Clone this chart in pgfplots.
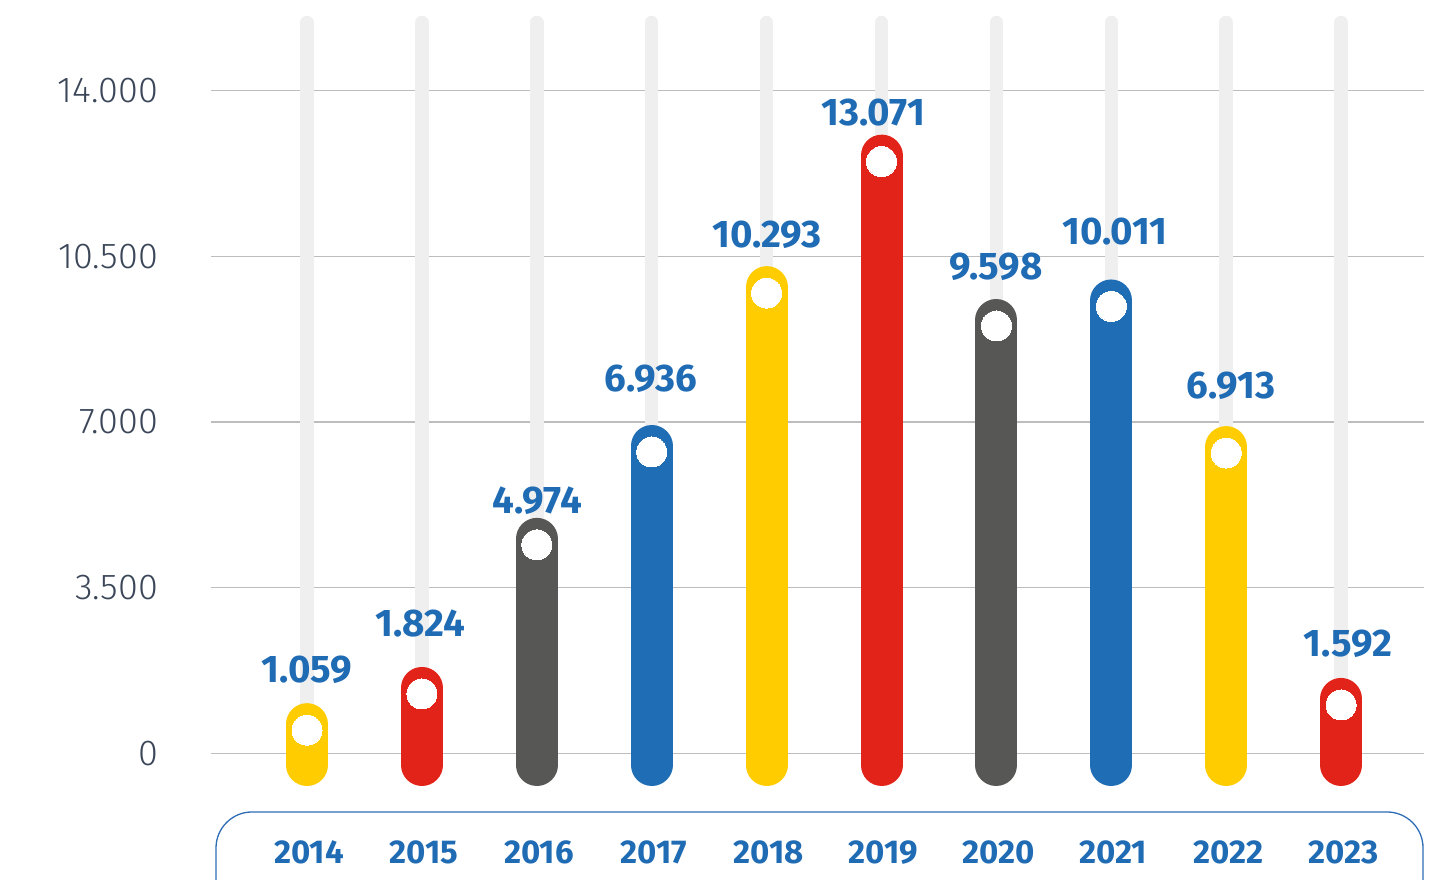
\documentclass[border=0pt]{standalone}
\usepackage{pgfplots}
\pgfplotsset{compat=1.18}
\usepackage{fontspec}
\setmainfont{Fira Sans}
\IfFontExistsTF{Fira Sans Light}{\newfontfamily\tickfont{Fira Sans Light}}{\newfontfamily\tickfont{Fira Sans}}
\definecolor{cyel}{HTML}{FFCC00}
\definecolor{cred}{HTML}{E2231A}
\definecolor{cgray}{HTML}{575756}
\definecolor{cblue}{HTML}{1F6DB5}
\definecolor{clab}{HTML}{1F6BB4}
\definecolor{ctick}{HTML}{3B4759}
\definecolor{cgrid}{HTML}{BDBDBD}
\definecolor{ctrack}{HTML}{EFEFEF}
\definecolor{coutline}{HTML}{2E6DB4}
\pgfplotsset{
  capsule/.style={#1, line width=42pt, line cap=round,
    y filter/.expression={y==0 ? -247 : y-443.7}},
}
\tikzset{
  vlab/.style={font=\fontsize{38.5}{40}\selectfont\bfseries, text=clab, anchor=center, inner sep=0pt},
}
\begin{document}
\begin{tikzpicture}
\begin{axis}[
  scale only axis, width=1445pt, height=879pt,
  xmin=-2.6719, xmax=9.9043, ymin=-2656, ymax=15916,
  axis line style={draw=none}, tick style={draw=none}, major tick length=0pt,
  scaled y ticks=false, scaled x ticks=false,
  xtick={0,1,2,3,4,5,6,7,8,9},
  xticklabels={2014,2015,2016,2017,2018,2019,2020,2021,2022,2023},
  xticklabel style={font=\fontsize{33}{36}\selectfont\bfseries, text=clab, anchor=center, inner sep=0pt, yshift=26.5pt, xshift=2pt},
  ytick={0,3500,7000,10500,14000},
  yticklabels={0,3.500,7.000,10.500,14.000},
  yticklabel style={font=\fontsize{36}{40}\tickfont, text=ctick, anchor=east, inner sep=0pt, xshift=158pt},
  clip=true,
]
% grid lines
\pgfplotsinvokeforeach{0,3500,7000,10500,14000}{
  \addplot[cgrid, line width=1.3pt] coordinates {(-0.8355,#1) (9.7215,#1)};
}
% background tracks
\pgfplotsinvokeforeach{0,1,2,3,4,5,6,7,8,9}{
  \addplot[ctrack, line width=13.5pt, line cap=round] coordinates {(#1,0) (#1,15441)};
}
% bars
\addplot[capsule=cyel]  coordinates {(0,0) (0,1059)};
\addplot[capsule=cred]  coordinates {(1,0) (1,1824)};
\addplot[capsule=cgray] coordinates {(2,0) (2,4974)};
\addplot[capsule=cblue] coordinates {(3,0) (3,6936)};
\addplot[capsule=cyel]  coordinates {(4,0) (4,10293)};
\addplot[capsule=cred]  coordinates {(5,0) (5,13071)};
\addplot[capsule=cgray] coordinates {(6,0) (6,9598)};
\addplot[capsule=cblue] coordinates {(7,0) (7,10011)};
\addplot[capsule=cyel]  coordinates {(8,0) (8,6913)};
\addplot[capsule=cred]  coordinates {(9,0) (9,1592)};
% white dots
\addplot[white, only marks, mark=*, mark size=15pt, mark options={fill=white, draw=white, line width=0pt},
  y filter/.expression={y-570}] coordinates {
  (0,1059) (1,1824) (2,4974) (3,6936) (4,10293) (5,13071) (6,9598) (7,10011) (8,6913) (9,1592)};
% bottom outline
\addplot[coutline, line width=1.3pt, rounded corners=36pt] coordinates {
  (-0.792,-4000) (-0.792,-1240) (9.713,-1240) (9.713,-4000)};
% value labels
\node[vlab] at (axis cs:0,1760) {1.059};
\node[vlab] at (axis cs:0.983,2751) {1.824};
\node[vlab] at (axis cs:2.002,5341) {4.974};
\node[vlab] at (axis cs:2.994,7919) {6.936};
\node[vlab] at (axis cs:4.003,10962) {10.293};
\node[vlab] at (axis cs:4.926,13529) {13.071};
\node[vlab] at (axis cs:5.997,10275) {9.598};
\node[vlab] at (axis cs:7.032,11021) {10.011};
\node[vlab] at (axis cs:8.042,7761) {6.913};
\node[vlab] at (axis cs:9.060,2309) {1.592};
\end{axis}
\end{tikzpicture}
\end{document}
